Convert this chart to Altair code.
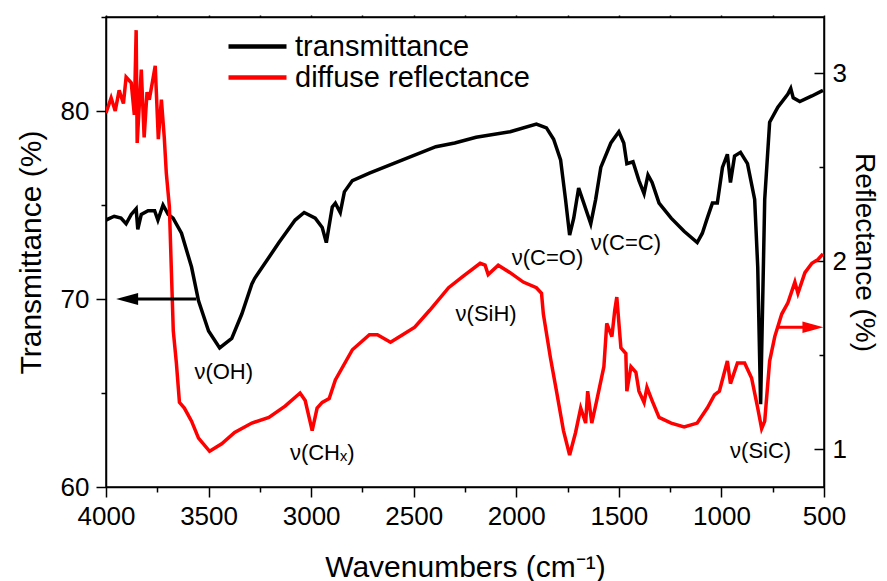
import altair as alt
import pandas as pd

# ---- data ----
t_wn = [4000, 3960, 3927, 3902, 3877, 3853, 3845, 3828, 3795, 3763, 3747, 3722, 3697, 3673,
        3632, 3583, 3549, 3500, 3446, 3387, 3338, 3289, 3275, 3157, 3078, 3034, 2980, 2946,
        2926, 2897, 2882, 2858, 2838, 2799, 2716, 2554, 2392, 2300, 2196, 2030, 1902, 1853,
        1818, 1784, 1760, 1740, 1720, 1696, 1671, 1637, 1613, 1588, 1539, 1500, 1476, 1461,
        1431, 1402, 1377, 1358, 1338, 1304, 1245, 1182, 1118, 1093, 1069, 1044, 1020, 995,
        971, 956, 936, 907, 873, 838, 823, 809, 795, 789, 765, 725, 676, 662, 650, 618, 559, 505]
t_val = [74.2, 74.4, 74.3, 74.0, 74.5, 74.8, 73.7, 74.5, 74.7, 74.7, 74.2, 75.0, 74.5, 74.3,
         73.5, 71.7, 69.9, 68.3, 67.4, 67.9, 69.2, 70.8, 71.1, 73.0, 74.2, 74.6, 74.3, 73.8,
         73.0, 74.9, 75.1, 74.6, 75.7, 76.3, 76.7, 77.4, 78.1, 78.3, 78.6, 78.9, 79.3, 79.1,
         78.5, 77.4, 75.3, 73.4, 74.3, 75.9, 75.1, 74.0, 75.3, 77.0, 78.3, 78.9, 78.3, 77.2,
         77.3, 76.3, 75.6, 76.6, 76.2, 75.1, 74.3, 73.6, 73.0, 73.5, 74.3, 75.1, 75.1, 77.0,
         77.7, 76.2, 77.6, 77.8, 77.2, 75.3, 71.7, 64.4, 72.0, 75.3, 79.4, 80.2, 80.9, 81.2,
         80.7, 80.5, 80.8, 81.1]

r_wn = [4000, 3975, 3955, 3936, 3915, 3902, 3877, 3862, 3853, 3848, 3828, 3814, 3800, 3789,
        3760, 3745, 3730, 3716, 3706, 3691, 3681, 3672, 3657, 3642, 3618, 3583, 3549, 3495,
        3436, 3373, 3289, 3206, 3127, 3054, 3029, 2995, 2971, 2946, 2912, 2882, 2799, 2716,
        2677, 2613, 2554, 2495, 2422, 2330, 2260, 2176, 2152, 2137, 2088, 2030, 1966, 1902,
        1877, 1868, 1834, 1804, 1770, 1740, 1711, 1686, 1662, 1652, 1632, 1608, 1573, 1559,
        1534, 1520, 1510, 1490, 1466, 1461, 1441, 1417, 1402, 1377, 1363, 1338, 1304, 1245,
        1182, 1118, 1069, 1034, 1010, 971, 956, 922, 887, 853, 823, 804, 789, 765, 740, 706,
        676, 642, 627, 593, 559, 529, 505]
r_val = [2.79, 2.87, 2.80, 2.91, 2.84, 2.98, 2.95, 2.78, 3.23, 2.63, 3.02, 2.66, 2.90, 2.86,
         3.04, 2.65, 2.86, 2.66, 2.47, 2.29, 1.94, 1.63, 1.46, 1.25, 1.22, 1.15, 1.06, 0.99,
         1.03, 1.09, 1.14, 1.17, 1.23, 1.30, 1.26, 1.10, 1.22, 1.25, 1.27, 1.37, 1.53, 1.61,
         1.61, 1.57, 1.61, 1.65, 1.74, 1.86, 1.92, 1.99, 1.98, 1.93, 1.98, 1.94, 1.89, 1.86,
         1.83, 1.72, 1.49, 1.31, 1.10, 0.97, 1.09, 1.22, 1.14, 1.31, 1.14, 1.26, 1.44, 1.67,
         1.60, 1.74, 1.81, 1.54, 1.51, 1.31, 1.44, 1.41, 1.31, 1.25, 1.33, 1.26, 1.17, 1.14,
         1.12, 1.14, 1.22, 1.29, 1.31, 1.47, 1.35, 1.46, 1.46, 1.38, 1.22, 1.11, 1.15, 1.47,
         1.60, 1.72, 1.78, 1.89, 1.83, 1.94, 1.99, 2.01, 2.04]

series_names = ["transmittance", "diffuse reflectance"]
series_colors = ["black", "red"]

ann_text = ["ν(OH)", "ν(CHₓ)", "ν(SiH)", "ν(C=O)", "ν(C=C)", "ν(SiC)"]
ann_wn = [3426, 2946, 2147, 1848, 1466, 809]
ann_t = [66.1, 61.8, 69.2, 72.2, 73.0, 61.9]

arrow_t_wn = [3560, 3900]
arrow_t_head = 3897
arrow_t_y = 70
arrow_r_wn = [725, 560]
arrow_r_head = 554
arrow_r_y = 1.65

x_ticks = list(range(500, 4001, 250))
yl_ticks = [60, 65, 70, 75, 80, 85]
yr_ticks = [1, 1.5, 2, 2.5, 3]

# ---- frames ----
df_t = pd.DataFrame({"wn": t_wn, "val": t_val, "series": series_names[0]})
df_r = pd.DataFrame({"wn": r_wn, "val": r_val, "series": series_names[1]})
df_ann = pd.DataFrame({"wn": ann_wn, "val": ann_t, "text": ann_text})
df_at = pd.DataFrame({"wn": arrow_t_wn, "val": [arrow_t_y] * 2})
df_ath = pd.DataFrame({"wn": [arrow_t_head], "val": [arrow_t_y]})
df_ar = pd.DataFrame({"wn": arrow_r_wn, "val": [arrow_r_y] * 2})
df_arh = pd.DataFrame({"wn": [arrow_r_head], "val": [arrow_r_y]})

FONT = "Liberation Sans"
xscale = alt.Scale(domain=[4000, 500], nice=False, zero=False)
yl = alt.Scale(domain=[60, 85], nice=False, zero=False)
yr = alt.Scale(domain=[0.8, 3.3], nice=False, zero=False)
color = alt.Color("series:N", scale=alt.Scale(domain=series_names, range=series_colors),
                  legend=alt.Legend(title=None, orient="none", legendX=120, legendY=14,
                                    symbolType="stroke", symbolSize=3364, symbolStrokeWidth=4.5,
                                    labelFontSize=29, labelFont=FONT, clipHeight=31,
                                    rowPadding=0, labelOffset=6, labelLimit=0))

common = dict(labelFont=FONT, titleFont=FONT, titleFontWeight="normal", labelFlush=False,
              labelFontSize=26)

x_bottom = alt.X("wn:Q", scale=xscale, axis=alt.Axis(
    title="Wavenumbers (cm⁻¹)", values=x_ticks, format="d", titleFontSize=30,
    tickSize={"condition": {"test": "datum.value % 500 === 0", "value": 10}, "value": 5},
    labelExpr="datum.value % 500 === 0 ? datum.label : ''",
    labelPadding=6, titlePadding=23, orient="bottom", **common))
x_top = alt.X("wn:Q", scale=xscale, axis=alt.Axis(
    title=None, values=x_ticks, labels=False, tickSize=2, orient="top"))
x_none = alt.X("wn:Q", scale=xscale, axis=None)

y_left = alt.Y("val:Q", scale=yl, axis=alt.Axis(
    title="Transmittance (%)", values=yl_ticks, format="d", titleFontSize=30,
    tickSize={"condition": {"test": "datum.value % 10 === 0", "value": 10}, "value": 5},
    labelExpr="datum.value % 10 === 0 ? datum.label : ''",
    labelPadding=7, titlePadding=14, orient="left", **common))
y_right = alt.Y("val:Q", scale=yr, axis=alt.Axis(
    title="Reflectance (%)", values=[1, 2, 3], format="d", ticks=False, tickSize=0,
    titleFontSize=28, labelPadding=8, titlePadding=3, orient="right", **common))
# inward ticks of the right axis (a left-oriented axis moved onto the right edge)
y_right_ticks = alt.Y("val:Q", scale=yr, axis=alt.Axis(
    title=None, values=yr_ticks, labels=False, domain=False, orient="left",
    offset=alt.ExprRef("-width"),
    tickSize={"condition": {"test": "datum.value % 1 === 0", "value": 10}, "value": 5}))

yl_none = alt.Y("val:Q", scale=yl, axis=None)
yr_none = alt.Y("val:Q", scale=yr, axis=None)

t_line = alt.Chart(df_t).mark_line(strokeWidth=3.5, clip=True).encode(
    x=x_bottom, y=y_left, color=color)
r_line = alt.Chart(df_r).mark_line(strokeWidth=3.5, clip=True).encode(
    x=x_top, y=y_right, color=color)
ann = alt.Chart(df_ann).mark_text(font=FONT, fontSize=22, color="black").encode(
    x=x_none, y=yl_none, text="text:N")
at_line = alt.Chart(df_at).mark_line(strokeWidth=3, color="black").encode(x=x_none, y=yl_none)
at_head = alt.Chart(df_ath).mark_point(
    shape="M-1,0L1,-0.55L1,0.55Z", size=484, filled=True, opacity=1, color="black").encode(
    x=x_none, y=yl_none)
ar_line = alt.Chart(df_ar).mark_line(strokeWidth=3, color="red").encode(x=x_none, y=y_right_ticks)
ar_head = alt.Chart(df_arh).mark_point(
    shape="M1,0L-1,-0.55L-1,0.55Z", size=441, filled=True, opacity=1, color="red").encode(
    x=x_none, y=yr_none)

chart = alt.layer(t_line, r_line, ann, at_line, at_head, ar_line, ar_head).resolve_scale(
    y="independent").resolve_axis(x="independent", y="independent").properties(
    width=870, height=573,
    autosize=alt.AutoSizeParams(type="fit", contains="padding"),
    padding={"left": 8, "top": 6, "right": 0, "bottom": -1}
).configure_view(stroke="black", strokeWidth=1.5).configure_axis(
    domainColor="black", domainWidth=1.5, tickColor="black", tickWidth=1.5,
    labelColor="black", titleColor="black", grid=False)

chart.save("out.html", embed_options={"renderer": "svg", "actions": False})
